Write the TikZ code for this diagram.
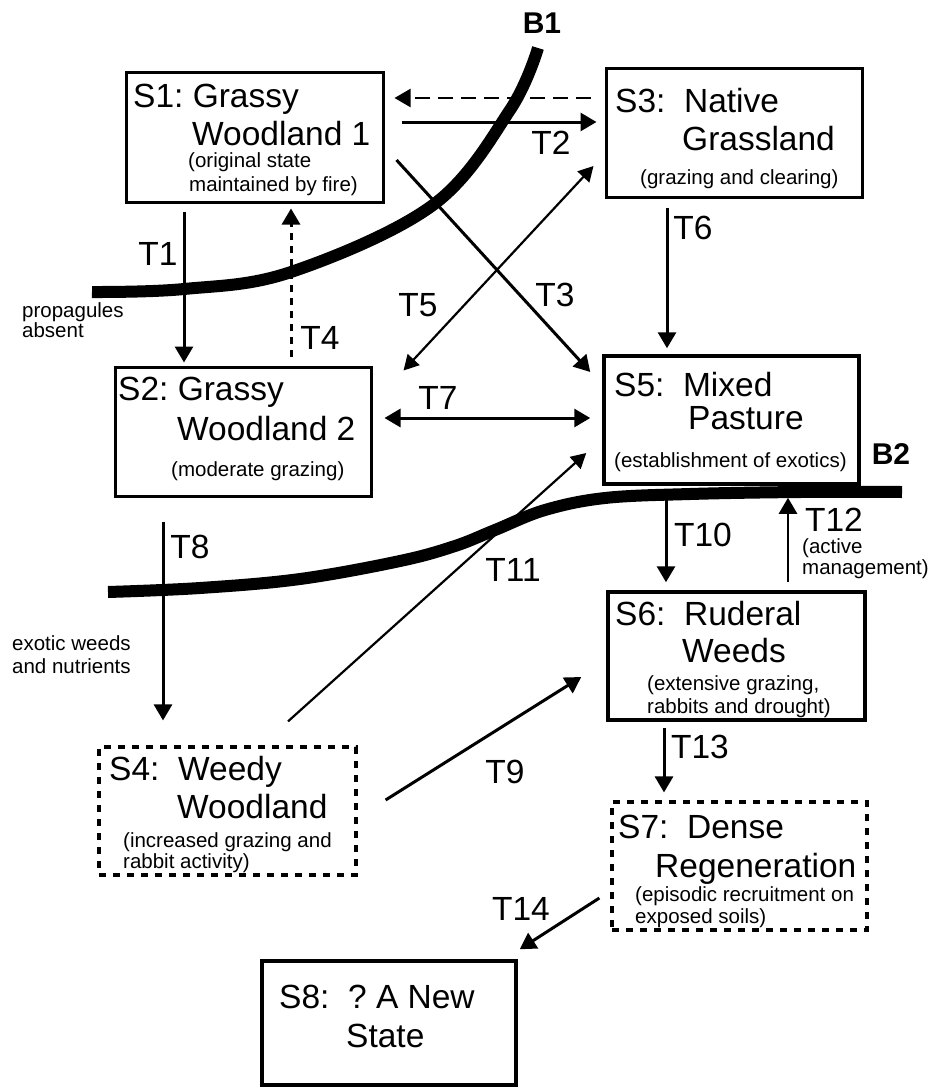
\documentclass[tikz,border=0pt]{standalone}
\usepackage{fontspec}
\setmainfont{Liberation Sans}
\usetikzlibrary{arrows.meta}
\frenchspacing
\tikzset{
  stbox/.style={draw, line width=3pt, inner sep=0pt,
                minimum width=256pt, minimum height=129pt},
  weakbox/.style={stbox, line width=3.2pt, dash pattern=on 7pt off 7pt},
  title/.style={anchor=base west, inner sep=0pt, font=\fontsize{33.5}{40}\selectfont},
  note/.style={anchor=base west, inner sep=0pt, font=\fontsize{20.5}{24}\selectfont},
  tlab/.style={inner sep=0pt, font=\fontsize{33.5}{40}\selectfont},
  blab/.style={inner sep=0pt, font=\fontsize{30}{36}\selectfont\bfseries},
  bound/.style={line width=12pt},
  flow/.style={-{Triangle[length=16pt, width=18pt]}, line width=3pt},
  lightflow/.style={-{Triangle[length=15pt, width=16pt]}, line width=2.2pt},
}
\begin{document}
\begin{tikzpicture}[x=1pt, y=-1pt]
  \useasboundingbox (0,0) rectangle (927,1087);
  % thresholds
  \draw[bound] plot[smooth, tension=0.6] coordinates
    {(538,48) (510,110) (433,205) (291,272) (184,289) (92,292)};
  \draw[bound] plot[smooth, tension=0.6] coordinates
    {(108,592) (200,588) (300,579) (400,561) (455,546) (495,530) (545,510)
     (605,498) (690,494) (800,492) (902,492)};
  \node[blab] (b1) at (542,23) {B1};
  \node[blab] (b2) at (891,454) {B2};

  % states
  \node[stbox, minimum width=257pt, minimum height=130pt] (s1) at (254.5,137) {};
  \node[stbox] (s3) at (734,132.5) {};
  \node[stbox] (s2) at (243,431.5) {};
  \node[stbox, line width=3.5pt, minimum width=255pt, minimum height=128pt] (s5) at (731.5,420) {};
  \node[stbox, line width=3.5pt, minimum width=257pt, minimum height=128pt] (s6) at (736.5,656) {};
  \node[weakbox, minimum width=257pt, minimum height=128pt] (s4) at (227.5,811) {};
  \node[weakbox, minimum width=255pt, minimum height=128pt] (s7) at (739.5,866) {};
  \node[stbox, line width=3.5pt, minimum width=254pt, minimum height=124pt] (s8) at (389,1023) {};

  \node[title] (s1a) at (133,107) {S1: Grassy};
  \node[title] (s1b) at (192,145) {Woodland 1};
  \node[note] (s1c) at (188,167) {(original state};
  \node[note] (s1d) at (189,191) {maintained by fire)};
  \node[title] (s3a) at (615,112) {S3:~~Native};
  \node[title] (s3b) at (682,150) {Grassland};
  \node[note] (s3c) at (640,184) {(grazing and clearing)};
  \node[title] (s2a) at (118,400) {S2: Grassy};
  \node[title] (s2b) at (177,440) {Woodland 2};
  \node[note] (s2c) at (171,476) {(moderate grazing)};
  \node[title] (s5a) at (614,396) {S5:~~Mixed};
  \node[title] (s5b) at (688,429) {Pasture};
  \node[note] (s5c) at (614,467) {(establishment of exotics)};
  \node[title] (s6a) at (615,625) {S6:~~Ruderal};
  \node[title] (s6b) at (682,662) {Weeds};
  \node[note] (s6c) at (647,690) {(extensive grazing,};
  \node[note] (s6d) at (647,713) {rabbits and drought)};
  \node[title] (s4a) at (109,780) {S4:~~Weedy};
  \node[title] (s4b) at (177,818) {Woodland};
  \node[note] (s4c) at (123,847) {(increased grazing and};
  \node[note] (s4d) at (123,868) {rabbit activity)};
  \node[title] (s7a) at (618,838) {S7:~~Dense};
  \node[title] (s7b) at (655,877) {Regeneration};
  \node[note] (s7c) at (635,901) {(episodic recruitment on};
  \node[note] (s7d) at (635,923) {exposed soils)};
  \node[title] (s8a) at (279,1008) {S8:~~? A New};
  \node[title] (s8b) at (346,1047) {State};

  % side notes
  \node[note] (prop) at (22,317) {propagules};
  \node[note] (abs) at (22,337) {absent};
  \node[note] (exo) at (12,650) {exotic weeds};
  \node[note] (nut) at (12,673) {and nutrients};
  \node[note] (act) at (802,553) {(active};
  \node[note] (mgt) at (802,574) {management)};

  % transitions
  \draw[flow] ([shift={(-70.5,8)}]s1.south) -- ([shift={(-59,-3)}]s2.north);
  \draw[flow, dash pattern=on 7pt off 6pt] ([shift={(48,-9)}]s2.north) -- ([shift={(36.5,5)}]s1.south);
  \draw[flow, line width=2.2pt, dash pattern=on 15pt off 8pt] ([shift={(-14,-34.5)}]s3.west) -- ([shift={(10,-39)}]s1.east);
  \draw[flow] ([shift={(17,-15)}]s1.east) -- ([shift={(-8,-10.5)}]s3.west);
  \draw[flow] ([shift={(12,23)}]s1.east) -- ([shift={(-12,-48)}]s5.west);
  \draw[lightflow, {Triangle[length=15pt, width=16pt]}-{Triangle[length=15pt, width=16pt]}]
    ([shift={(-11,33.5)}]s3.west) -- ([shift={(31,5)}]s2.north east);
  \draw[flow] ([shift={(-67,9)}]s3.south) -- ([shift={(-64.5,-6)}]s5.north);
  \draw[flow, {Triangle[length=16pt, width=18pt]}-{Triangle[length=16pt, width=18pt]}]
    ([shift={(12,-13.5)}]s2.east) -- ([shift={(-12,-2)}]s5.west);
  \draw[flow] ([shift={(-80,24)}]s2.south) -- ([shift={(-64.5,-25)}]s4.north);
  \draw[lightflow] ([shift={(60.5,-24)}]s4.north) -- ([shift={(-16,33)}]s5.west);
  \draw[flow] ([shift={(28,-11)}]s4.east) -- ([shift={(-25,21)}]s6.west);
  \draw[flow] ([shift={(-65.5,8)}]s5.south) -- ([shift={(-70.5,-8)}]s6.north);
  \draw[flow, line width=2.6pt] ([shift={(51.5,-8)}]s6.north) -- ([shift={(56.5,12)}]s5.south);
  \draw[flow] ([shift={(-72.5,6)}]s6.south) -- ([shift={(-75.5,-8)}]s7.north);
  \draw[flow] ([shift={(-11,32)}]s7.west) -- ([shift={(2,-10)}]s8.north east);

  \node[tlab] (t1) at (158,254) {T1};
  \node[tlab] (t2) at (551,143) {T2};
  \node[tlab] (t3) at (555,295) {T3};
  \node[tlab] (t4) at (320,338) {T4};
  \node[tlab] (t5) at (418,305) {T5};
  \node[tlab] (t6) at (693,228) {T6};
  \node[tlab] (t7) at (438,398) {T7};
  \node[tlab] (t8) at (190,547) {T8};
  \node[tlab] (t9) at (505,772) {T9};
  \node[tlab] (t10) at (703,535) {T10};
  \node[tlab] (t11) at (513,570) {T11};
  \node[tlab] (t12) at (834,520) {T12};
  \node[tlab] (t13) at (700,747) {T13};
  \node[tlab] (t14) at (521,909) {T14};
\end{tikzpicture}
\end{document}
